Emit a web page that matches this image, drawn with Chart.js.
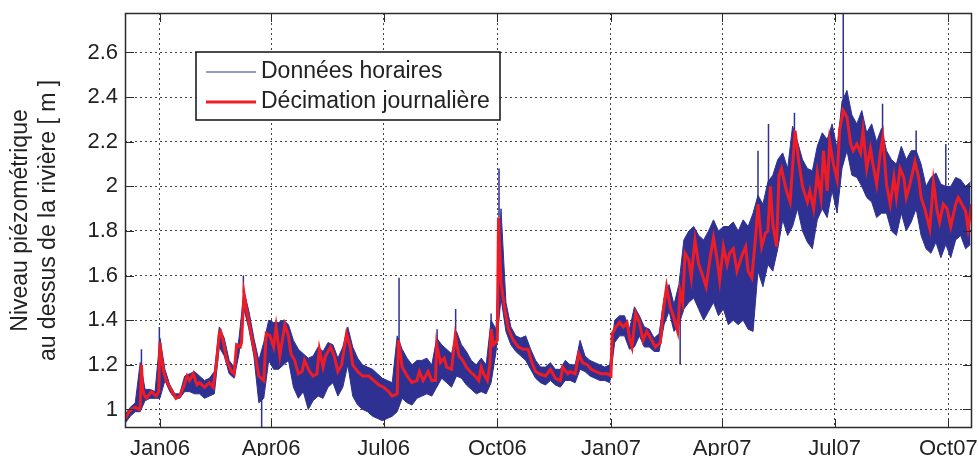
<!DOCTYPE html>
<html>
<head>
<meta charset="utf-8">
<script src="https://cdn.jsdelivr.net/npm/chart.js"></script>
<style>
  html, body { margin: 0; padding: 0; background: #fff; }
  canvas { display: block; }
</style>
</head>
<body>
<canvas id="chart" width="979" height="456"></canvas>
<script>
// days counted from 1 Jan 2006
const monthTickDays = [0, 90, 181, 273, 365, 455, 546, 638];
const monthTickLabels = ['Jan06', 'Apr06', 'Jul06', 'Oct06', 'Jan07', 'Apr07', 'Jul07', 'Oct07'];
const levelTicks = [1, 1.2, 1.4, 1.6, 1.8, 2, 2.2, 2.4, 2.6];

// hourly data, summarised as low / high per 4-day bin (bin centres start at day -28)
const hourlyStart = -28;
const hourlyStep = 4;
const hourlyLow = [
  0.94, 0.97, 0.99, 0.99, 1.04, 1.05, 1.05, 1.05, 1.13, 1.08,   // -28
  1.05, 1.05, 1.08, 1.08, 1.07, 1.07, 1.05, 1.06, 1.07, 1.28,   // 12
  1.24, 1.16, 1.14, 1.25, 1.45, 1.36, 1.24, 1.03, 1.05, 1.22,   // 52
  1.18, 1.18, 1.20, 1.22, 1.10, 1.05, 1.08, 1.00, 1.04, 1.06,   // 92
  1.05, 1.10, 1.12, 1.06, 1.10, 1.20, 1.06, 1.02, 1.00, 0.99,   // 132
  0.97, 0.96, 0.95, 0.96, 0.97, 0.99, 1.05, 1.03, 1.02, 1.05,   // 172
  1.06, 1.07, 1.06, 1.10, 1.14, 1.12, 1.10, 1.15, 1.14, 1.11,   // 212
  1.09, 1.07, 1.08, 1.07, 1.12, 1.26, 1.50, 1.35, 1.29, 1.26,   // 252
  1.24, 1.22, 1.18, 1.14, 1.12, 1.11, 1.13, 1.11, 1.10, 1.13,   // 292
  1.13, 1.12, 1.18, 1.17, 1.15, 1.14, 1.13, 1.13, 1.12, 1.30,   // 332
  1.33, 1.33, 1.27, 1.28, 1.33, 1.28, 1.28, 1.26, 1.26, 1.38,   // 372
  1.44, 1.35, 1.38, 1.45, 1.48, 1.50, 1.45, 1.40, 1.44, 1.48,   // 412
  1.42, 1.45, 1.38, 1.40, 1.38, 1.40, 1.36, 1.35, 1.62, 1.55,   // 452
  1.65, 1.62, 1.72, 1.85, 1.78, 1.82, 1.90, 1.80, 1.75, 1.72,   // 492
  1.85, 1.90, 1.86, 1.98, 1.88, 2.08, 2.16, 2.05, 2.04, 2.00,   // 532
  1.95, 1.93, 1.86, 1.88, 1.88, 1.80, 1.78, 1.88, 1.80, 1.84,   // 572
  1.90, 1.78, 1.72, 1.70, 1.75, 1.68, 1.74, 1.68, 1.76, 1.78,   // 612
  1.72, 1.74                                                    // 652
];
const hourlyHigh = [
  0.98, 1.01, 1.03, 1.21, 1.09, 1.09, 1.08, 1.32, 1.18, 1.11,
  1.07, 1.07, 1.15, 1.16, 1.17, 1.15, 1.13, 1.14, 1.17, 1.37,
  1.32, 1.22, 1.19, 1.32, 1.53, 1.44, 1.32, 1.22, 1.30, 1.40,
  1.39, 1.39, 1.40, 1.38, 1.31, 1.27, 1.25, 1.23, 1.24, 1.28,
  1.26, 1.30, 1.29, 1.23, 1.28, 1.37, 1.28, 1.23, 1.20, 1.19,
  1.18, 1.16, 1.14, 1.13, 1.12, 1.33, 1.27, 1.23, 1.20, 1.22,
  1.22, 1.23, 1.20, 1.32, 1.29, 1.27, 1.25, 1.35, 1.29, 1.26,
  1.22, 1.20, 1.23, 1.20, 1.40, 1.36, 1.90, 1.48, 1.37, 1.33,
  1.32, 1.33, 1.27, 1.22, 1.19, 1.19, 1.21, 1.18, 1.18, 1.22,
  1.20, 1.20, 1.31, 1.24, 1.22, 1.21, 1.20, 1.19, 1.20, 1.40,
  1.42, 1.42, 1.36, 1.46, 1.42, 1.37, 1.36, 1.32, 1.34, 1.50,
  1.56, 1.47, 1.56, 1.76, 1.80, 1.82, 1.78, 1.76, 1.80, 1.85,
  1.80, 1.82, 1.82, 1.84, 1.80, 1.85, 1.82, 1.88, 1.96, 1.92,
  2.02, 2.05, 2.12, 2.15, 2.08, 2.27, 2.20, 2.12, 2.08, 2.07,
  2.18, 2.24, 2.21, 2.28, 2.17, 2.38, 2.43, 2.32, 2.28, 2.34,
  2.24, 2.28, 2.20, 2.26, 2.16, 2.12, 2.10, 2.18, 2.12, 2.16,
  2.16, 2.10, 2.00, 2.04, 2.06, 2.01, 2.00, 2.00, 2.04, 2.03,
  2.00, 2.02
];

// isolated hourly needles (day, level)
const spikeDays = [-15, -0.5, 67.5, 82.3, 193.5, 224.3, 239.3, 268, 274.4, 421, 484, 492.5, 513.5, 553, 584.8, 612, 636];
const spikeLevels = [1.27, 1.37, 1.60, 0.91, 1.59, 1.36, 1.45, 1.43, 2.08, 1.20, 2.16, 2.28, 2.33, 2.80, 2.37, 2.25, 2.19];

// daily decimation
const dailyDays = [
  -28, -25, -23, -20, -17, -16, -15, -14, -13, -11, -7, -3, -1, 0, 1, 3, 5, 9, 13, 16,
  19, 22, 24, 27, 30, 32, 36, 40, 43, 46, 48, 49, 51, 54, 58, 60, 62, 65, 66, 68,
  70, 74, 77, 80, 82, 84, 86, 89, 92, 94, 97, 101, 104, 106, 109, 112, 115, 117, 121, 124,
  127, 129, 132, 134, 138, 141, 144, 147, 151, 154, 156, 160, 164, 169, 173, 177, 181, 185, 188, 192,
  193, 194, 196, 200, 204, 208, 210, 213, 217, 220, 223, 224, 227, 230, 232, 236, 239, 242, 245, 248,
  251, 255, 258, 260, 262, 265, 267, 268, 270, 273, 274, 276, 279, 282, 286, 290, 294, 298, 301, 304,
  307, 312, 316, 320, 324, 326, 330, 332, 336, 339, 342, 346, 349, 353, 357, 362, 365, 366, 369, 372,
  375, 378, 380, 382, 385, 388, 391, 394, 397, 401, 405, 407, 410, 413, 416, 419, 421, 423, 425, 428,
  430, 433, 436, 438, 442, 445, 448, 451, 453, 456, 459, 461, 464, 467, 471, 474, 476, 479, 482, 484,
  487, 490, 492, 494, 496, 499, 501, 503, 507, 510, 514, 517, 520, 524, 526, 529, 532, 535, 537, 540,
  542, 545, 548, 550, 553, 556, 559, 561, 564, 567, 569, 572, 575, 577, 580, 583, 585, 588, 591, 594,
  596, 599, 602, 604, 607, 611, 614, 616, 619, 623, 626, 629, 631, 634, 637, 640, 644, 646, 649, 652,
  654, 657
];
const dailyLevel = [
  0.96, 0.99, 1.00, 1.01, 1.00, 1.01, 1.20, 1.09, 1.07, 1.05, 1.08, 1.06, 1.08, 1.30, 1.24, 1.17, 1.13, 1.09, 1.05, 1.06,
  1.10, 1.15, 1.13, 1.16, 1.11, 1.12, 1.10, 1.12, 1.10, 1.22, 1.34, 1.35, 1.31, 1.22, 1.17, 1.16, 1.29, 1.28, 1.30, 1.52,
  1.45, 1.33, 1.25, 1.15, 1.14, 1.13, 1.34, 1.33, 1.28, 1.37, 1.24, 1.38, 1.33, 1.25, 1.22, 1.16, 1.17, 1.22, 1.17, 1.15,
  1.16, 1.27, 1.19, 1.24, 1.28, 1.24, 1.17, 1.20, 1.34, 1.28, 1.20, 1.17, 1.15, 1.15, 1.13, 1.11, 1.10, 1.08, 1.06, 1.07,
  1.31, 1.27, 1.19, 1.15, 1.12, 1.13, 1.17, 1.13, 1.17, 1.13, 1.13, 1.29, 1.21, 1.23, 1.19, 1.18, 1.33, 1.24, 1.22, 1.19,
  1.17, 1.15, 1.13, 1.19, 1.16, 1.13, 1.20, 1.36, 1.29, 1.31, 1.86, 1.57, 1.45, 1.36, 1.31, 1.28, 1.27, 1.27, 1.21, 1.17,
  1.16, 1.15, 1.18, 1.14, 1.13, 1.19, 1.16, 1.17, 1.16, 1.25, 1.21, 1.20, 1.18, 1.17, 1.16, 1.16, 1.15, 1.34, 1.37, 1.39,
  1.37, 1.39, 1.32, 1.28, 1.43, 1.39, 1.31, 1.35, 1.32, 1.28, 1.30, 1.43, 1.55, 1.46, 1.41, 1.35, 1.53, 1.48, 1.70, 1.67,
  1.59, 1.76, 1.65, 1.62, 1.55, 1.67, 1.77, 1.67, 1.58, 1.73, 1.65, 1.70, 1.72, 1.62, 1.69, 1.73, 1.62, 1.59, 1.77, 1.92,
  1.73, 1.79, 1.80, 2.00, 1.83, 1.73, 2.05, 2.08, 1.98, 1.93, 2.25, 2.11, 2.00, 1.93, 1.98, 1.90, 2.06, 1.95, 2.16, 1.98,
  2.20, 2.10, 2.03, 2.25, 2.34, 2.31, 2.19, 2.16, 2.19, 2.15, 2.25, 2.08, 2.17, 2.10, 2.01, 2.15, 2.22, 2.01, 1.92, 2.04,
  1.95, 2.08, 2.04, 1.95, 2.01, 2.11, 2.04, 1.95, 1.90, 1.81, 2.02, 1.89, 1.84, 1.92, 1.90, 1.82, 1.92, 1.95, 1.92, 1.89,
  1.81, 1.92
];

const FONT = "'Liberation Sans', Arial, Helvetica, sans-serif";
const BLUE = '#2e3192';
const RED = '#ee1c25';

const binDay = i => hourlyStart + i * hourlyStep;
const highPoints = hourlyHigh.map((v, i) => ({x: binDay(i), y: v}));
const lowPoints = hourlyLow.map((v, i) => ({x: binDay(i), y: v}));

// each needle runs from the daily level nearest to it up (or down) to its extreme
const spikePoints = [];
spikeDays.forEach((d, i) => {
  let k = 0;
  dailyDays.forEach((dd, j) => { if (Math.abs(dd - d) < Math.abs(dailyDays[k] - d)) k = j; });
  spikePoints.push({x: d, y: dailyLevel[k]}, {x: d, y: spikeLevels[i]}, {x: d, y: null});
});
const dailyPoints = dailyDays.map((d, i) => ({x: d, y: dailyLevel[i]}));

// box round the plot with inward tick marks, like the original
const framePlugin = {
  id: 'frame',
  afterDatasetsDraw(chart) {
    const {ctx, chartArea: a, scales} = chart;
    const tl = 9;
    ctx.save();
    ctx.strokeStyle = '#2b2b2b';
    ctx.lineWidth = 1;
    ctx.beginPath();
    scales.y.ticks.forEach(t => {
      const p = Math.round(scales.y.getPixelForValue(t.value)) + 0.5;
      ctx.moveTo(a.left, p); ctx.lineTo(a.left + tl, p);
      ctx.moveTo(a.right, p); ctx.lineTo(a.right - tl, p);
    });
    scales.x.ticks.forEach(t => {
      const p = Math.round(scales.x.getPixelForValue(t.value)) + 0.5;
      ctx.moveTo(p, a.bottom); ctx.lineTo(p, a.bottom - tl);
      ctx.moveTo(p, a.top); ctx.lineTo(p, a.top + tl);
    });
    ctx.stroke();
    ctx.lineWidth = 1.5;
    ctx.strokeRect(Math.round(a.left) + 0.5, Math.round(a.top) + 0.5,
      Math.round(a.right - a.left) - 1, Math.round(a.bottom - a.top) - 1);
    ctx.restore();
  }
};

// legend box inside the plot, upper left
const legendPlugin = {
  id: 'boxLegend',
  afterDraw(chart) {
    const {ctx} = chart;
    const box = {x: 196, y: 52, w: 304, h: 68};
    ctx.save();
    ctx.fillStyle = '#fff';
    ctx.fillRect(box.x, box.y, box.w, box.h);
    ctx.strokeStyle = '#111';
    ctx.lineWidth = 1.5;
    ctx.strokeRect(box.x, box.y, box.w, box.h);
    ctx.font = '23px ' + FONT;
    ctx.textBaseline = 'middle';
    ctx.fillStyle = '#222';
    chart.data.datasets.filter(ds => ds.label).forEach((ds, i) => {
      const yy = box.y + 20 + i * 30;
      ctx.strokeStyle = ds.borderColor;
      ctx.lineWidth = ds.borderWidth;
      ctx.beginPath();
      ctx.moveTo(box.x + 10, yy);
      ctx.lineTo(box.x + 60, yy);
      ctx.stroke();
      ctx.fillText(ds.label, box.x + 65, yy);
    });
    ctx.restore();
  }
};

const thin = { pointRadius: 0, tension: 0 };

new Chart(document.getElementById('chart'), {
  type: 'line',
  data: {
    datasets: [
      { ...thin, label: 'Données horaires', data: highPoints, borderColor: BLUE, borderWidth: 1,
        backgroundColor: BLUE, fill: '+1', order: 1 },
      { ...thin, data: lowPoints, borderColor: BLUE, borderWidth: 1, order: 1 },
      { ...thin, data: spikePoints, borderColor: BLUE, borderWidth: 1.5, spanGaps: false, order: 1 },
      { ...thin, label: 'Décimation journalière', data: dailyPoints, borderColor: RED, borderWidth: 3, order: 0 }
    ]
  },
  options: {
    responsive: false,
    animation: false,
    devicePixelRatio: 1,
    parsing: false,
    layout: { padding: { top: 13, right: 7, left: 0, bottom: 0 } },
    plugins: {
      legend: { display: false },
      tooltip: { enabled: false },
      filler: { propagate: false }
    },
    scales: {
      x: {
        type: 'linear',
        min: -28.3,
        max: 657.2,
        afterBuildTicks: s => { s.ticks = monthTickDays.map(v => ({value: v})); },
        afterFit: s => { s.height = 28; s.paddingLeft = 0; s.paddingRight = 0; },
        ticks: {
          autoSkip: false,
          maxRotation: 0,
          padding: 8,
          color: '#222',
          font: { family: FONT, size: 22 },
          callback: v => monthTickLabels[monthTickDays.indexOf(v)]
        },
        grid: { color: '#444', lineWidth: 1, drawTicks: false },
        border: { display: false, dash: [2, 3] }
      },
      y: {
        min: 0.917,
        max: 2.777,
        afterBuildTicks: s => { s.ticks = levelTicks.map(v => ({value: v})); },
        afterFit: s => { s.width = 125; s.paddingTop = 0; s.paddingBottom = 0; },
        ticks: {
          padding: 7,
          color: '#222',
          font: { family: FONT, size: 22 },
          callback: v => String(+v.toFixed(1))
        },
        grid: { color: '#444', lineWidth: 1, drawTicks: false },
        border: { display: false, dash: [2, 3] },
        title: {
          display: true,
          text: ['Niveau piézométrique', 'au dessus de la rivière [ m ]'],
          color: '#222',
          font: { family: FONT, size: 23, lineHeight: 1.2 },
          padding: { top: 7, bottom: 0 }
        }
      }
    }
  },
  plugins: [framePlugin, legendPlugin]
});
</script>
</body>
</html>
